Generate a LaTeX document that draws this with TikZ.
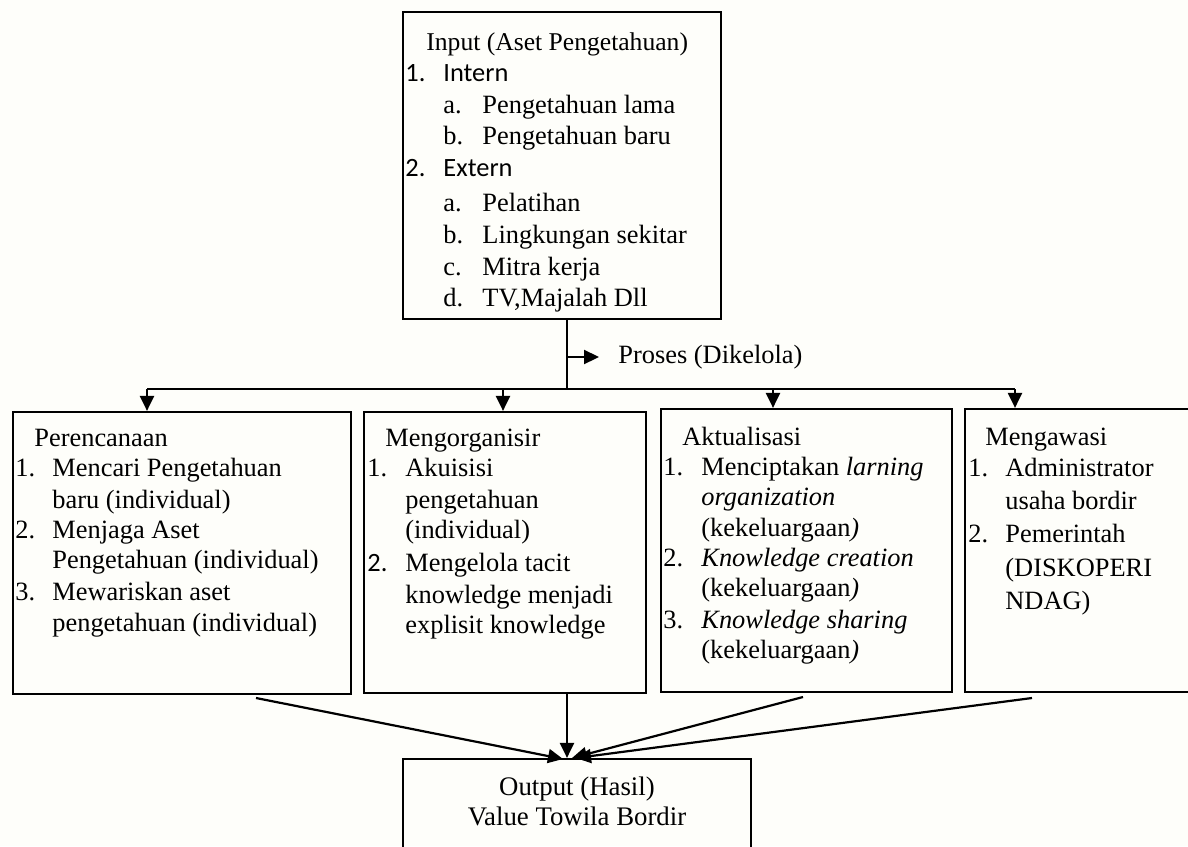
\documentclass[tikz,border=0pt]{standalone}
\usepackage{fontspec}
\setmainfont{Liberation Serif}
\newfontfamily\calfont{Carlito}
\usetikzlibrary{arrows.meta,fit}
\definecolor{bgcol}{RGB}{254,254,250}
\newcommand\tline[4]{\node[txt] (#1) at (#2,#3) {#4};}
\begin{document}
\begin{tikzpicture}[x=0.5pt,y=-0.5pt,
  box/.style={draw,line width=1.1pt,inner sep=0pt},
  conn/.style={line width=1.1pt},
  arr/.style={line width=1.1pt,-{Triangle[length=7.5pt,width=7pt]}},
  txt/.style={anchor=base west,inner sep=0pt,font=\fontsize{13.2}{15}\selectfont},
  ctxt/.style={anchor=base,inner sep=0pt,font=\fontsize{13.4}{15}\selectfont}]
\useasboundingbox (0,0) rectangle (1188,846);
\clip (0,0) rectangle (1188,846);
\fill[bgcol] (0,0) rectangle (1188,846);
% boxes
\node[box,fit={(403,12) (721,319)}] (input) {};
\node[box,fit={(13,412) (351,694)}] (p1) {};
\node[box,fit={(364,412) (646,693)}] (p2) {};
\node[box,fit={(661,409) (952,692)}] (p3) {};
\node[box,fit={(965,409) (1210,692)}] (p4) {};
\node[box,fit={(403,759) (751,880)}] (out) {};
% top box text
\node[txt,font=\fontsize{12.8}{15}\selectfont] (it0) at (426,50) {Input (Aset Pengetahuan)};
\tline{it1n}{405}{81}{\calfont 1.}
\tline{it1}{443}{81}{\calfont Intern}
\tline{it1an}{443}{113}{a.}
\tline{it1a}{482}{113}{Pengetahuan lama}
\tline{it1bn}{443}{144}{b.}
\tline{it1b}{482}{144}{Pengetahuan baru}
\tline{it2n}{405}{176}{\calfont 2.}
\tline{it2}{443}{176}{\calfont Extern}
\tline{it2an}{443}{211}{a.}
\tline{it2a}{482}{211}{Pelatihan}
\tline{it2bn}{443}{243}{b.}
\tline{it2b}{482}{243}{Lingkungan sekitar}
\tline{it2cn}{443}{275}{c.}
\tline{it2c}{482}{275}{Mitra kerja}
\tline{it2dn}{443}{306}{d.}
\tline{it2d}{482}{306}{TV,Majalah Dll}
% proses
\node[txt] (proses) at (618,363) {Proses (Dikelola)};
% Perencanaan
\tline{a0}{34}{446}{Perencanaan}
\tline{a1n}{15}{476}{1.}
\tline{a1}{52}{476}{Mencari Pengetahuan}
\tline{a1b}{52}{508}{baru (individual)}
\tline{a2n}{15}{538}{2.}
\tline{a2}{52}{538}{Menjaga Aset}
\tline{a2b}{52}{568}{Pengetahuan (individual)}
\tline{a3n}{15}{600}{3.}
\tline{a3}{52}{600}{Mewariskan aset}
\tline{a3b}{52}{631}{pengetahuan (individual)}
% Mengorganisir
\tline{b0}{385}{446}{Mengorganisir}
\tline{b1n}{367}{476}{1.}
\tline{b1}{405}{476}{Akuisisi}
\tline{b1b}{405}{508}{pengetahuan}
\tline{b1c}{405}{538}{(individual)}
\tline{b2n}{367}{571}{\calfont 2.}
\tline{b2}{405}{571}{Mengelola tacit}
\tline{b2b}{405}{603}{knowledge menjadi}
\tline{b2c}{405}{633}{explisit knowledge}
% Aktualisasi
\tline{c0}{682}{445}{Aktualisasi}
\tline{c1n}{663}{475}{1.}
\tline{c1}{701}{475}{Menciptakan \textit{larning}}
\tline{c1b}{701}{505}{\textit{organization}}
\tline{c1c}{701}{536}{(kekeluargaan\textit{)}}
\tline{c2n}{663}{566}{2.}
\tline{c2}{701}{566}{\textit{Knowledge creation}}
\tline{c2b}{701}{596}{(kekeluargaan\textit{)}}
\tline{c3n}{663}{628}{3.}
\tline{c3}{701}{628}{\textit{Knowledge sharing}}
\tline{c3b}{701}{658}{(kekeluargaan\textit{)}}
% Mengawasi
\tline{d0}{985}{445}{Mengawasi}
\tline{d1n}{968}{476}{1.}
\tline{d1}{1005}{476}{Administrator}
\tline{d1b}{1005}{509}{usaha bordir}
\tline{d2n}{968}{542}{2.}
\tline{d2}{1005}{542}{Pemerintah}
\tline{d2b}{1005}{576}{(DISKOPERI}
\tline{d2c}{1005}{609}{NDAG)}
% output
\node[ctxt] (o1) at (577,795) {Output (Hasil)};
\node[ctxt] (o2) at (577,825) {Value Towila Bordir};
% connectors
\coordinate (j) at (567,389);
\coordinate (pa) at (567,357);
\coordinate (pe) at (599,357);
\coordinate (hl) at (147,389);
\coordinate (hr) at (1015,389);
\coordinate (h2) at (503,389);
\coordinate (h3) at (773,389);
\draw[conn] (input.south -| j) -- (j);
\draw[arr] (pa) -- (pe);
\draw[conn] (hl) -- (hr);
\draw[arr] (hl) -- (hl |- p1.north);
\draw[arr] (h2) -- (h2 |- p2.north);
\draw[arr] (h3) -- (h3 |- p3.north);
\draw[arr] (hr) -- (hr |- p4.north);
\coordinate (s1) at (256,698);
\coordinate (s3) at (803,697);
\coordinate (s4) at (1032,698);
\coordinate (e1) at (563,759);
\coordinate (e3) at (572,758);
\coordinate (e4) at (576,758);
\draw[arr] (s1) -- (e1);
\draw[arr] (p2.south -| j) -- (out.north -| j);
\draw[arr] (s3) -- (e3);
\draw[arr] (s4) -- (e4);
\end{tikzpicture}
\end{document}
